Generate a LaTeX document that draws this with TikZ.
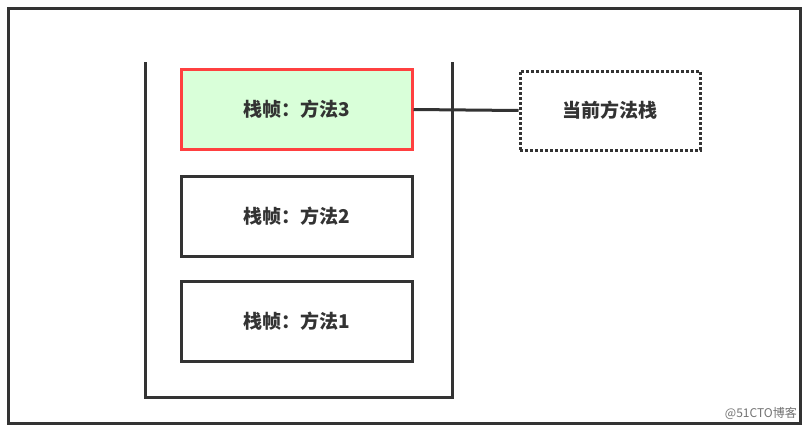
\documentclass[tikz,border=0pt]{standalone}
\usepackage{fontspec}
\setmainfont{Noto Sans CJK SC}
\usetikzlibrary{positioning}
\tikzset{
  frame/.style={draw=black!80, line width=3pt, fill=white},
  framebox/.style={draw=black!80, line width=3pt, minimum width=231pt, minimum height=80pt, font=\fontsize{19}{21}\selectfont\bfseries, text=black!80, inner sep=0pt},
  curbox/.style={framebox, draw=red!75, fill=green!15},
  notebox/.style={draw=black!80, line width=3pt, dotted, minimum width=180pt, minimum height=79pt, font=\fontsize{19}{21}\selectfont\bfseries, text=black!80}
}
\begin{document}
\begin{tikzpicture}[x=1pt,y=-1pt]
\useasboundingbox (0,0) rectangle (810,434);
\draw[frame] (8,8) rectangle (800,423);

% stack walls
\draw[black!80, line width=3pt] (145,62) -- (145,397) -- (452,397) -- (452,62);

\node[curbox] (m3) at (296.5,109.5) {栈帧：方法3};
\node[framebox] (m2) at (296.5,216) {栈帧：方法2};
\node[framebox] (m1) at (296.5,321.5) {栈帧：方法1};

\node[notebox] (cur) at (610,110.5) {当前方法栈};
\draw[black!80, line width=3pt] (m3.east) -- (cur.west);

\node[text=black!55, font=\fontsize{12}{13}\selectfont, anchor=south east, inner sep=1pt] (mark) at (798,421) {@51CTO博客};
\end{tikzpicture}
\end{document}
